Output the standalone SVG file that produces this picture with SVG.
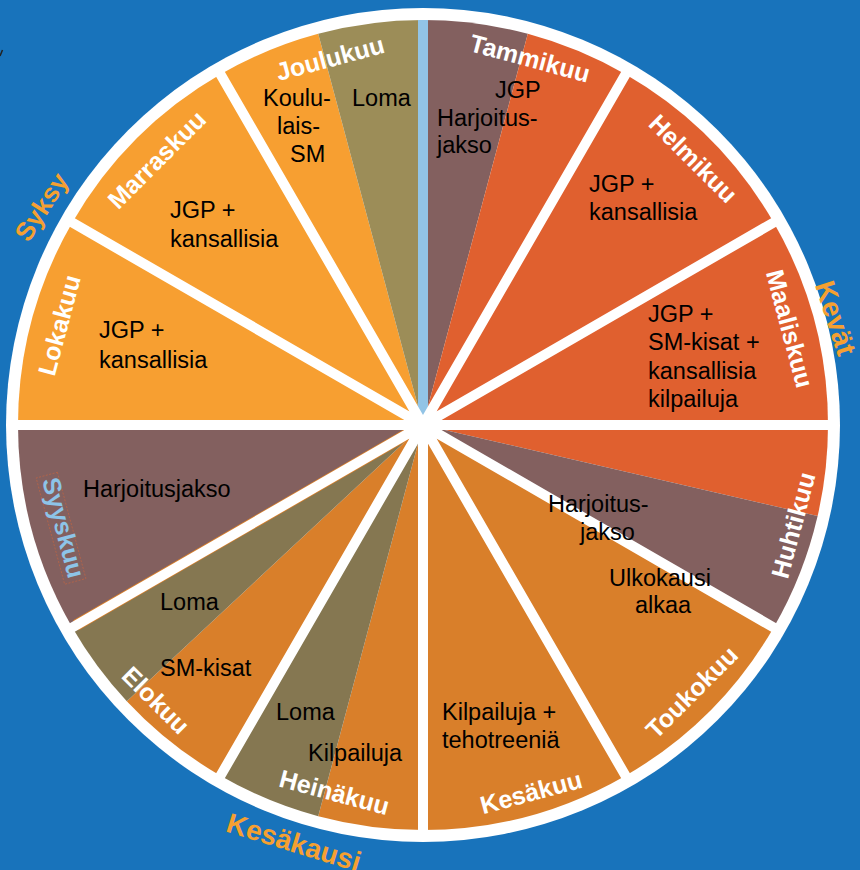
<svg xmlns="http://www.w3.org/2000/svg" width="860" height="870" viewBox="0 0 860 870">
<style>
.m{font-family:"Liberation Sans",Arial,sans-serif;font-weight:bold;font-size:25px;fill:#fff;text-anchor:middle}
.s{font-family:"Liberation Sans",Arial,sans-serif;font-weight:bold;fill:#F5A031;text-anchor:middle}
.t{font-family:"Liberation Sans",Arial,sans-serif;font-size:23.5px;fill:#000}
.lo{fill:#F79F31}.ol1{fill:#9C8D58}.ol2{fill:#857751}.mv{fill:#83605F}.rd{fill:#E0602F}.or{fill:#D97F2A}
.gap{stroke:#fff;stroke-width:10;fill:none}
</style>
<rect width="860" height="870" fill="#1873BB"/>
<path d="M0,56 L2.5,50" stroke="#222" stroke-width="1.5"/>
<circle cx="423" cy="425" r="417" fill="#fff"/>

<g id="joulukuu">
<path class="lo" d="M423,425 L220.5,74.3 A405,405 0 0 1 318.2,33.8 Z"/>
<path class="ol1" d="M423,425 L318.2,33.8 A405,405 0 0 1 423,20 Z"/>
</g>
<g id="tammikuu">
<path class="mv" d="M423,425 L423,20 A405,405 0 0 1 527.8,33.8 Z"/>
<path class="rd" d="M423,425 L527.8,33.8 A405,405 0 0 1 625.5,74.3 Z"/>
</g>
<g id="helmikuu"><path class="rd" d="M423,425 L625.5,74.3 A405,405 0 0 1 773.7,222.5 Z"/></g>
<g id="maaliskuu"><path class="rd" d="M423,425 L773.7,222.5 A405,405 0 0 1 828,425 Z"/></g>
<g id="huhtikuu">
<path class="rd" d="M423,425 L828,425 A405,405 0 0 1 817.6,516.1 Z"/>
<path class="mv" d="M423,425 L817.6,516.1 A405,405 0 0 1 773.7,627.5 Z"/>
</g>
<g id="toukokuu"><path class="or" d="M423,425 L773.7,627.5 A405,405 0 0 1 625.5,775.7 Z"/></g>
<g id="kesakuu"><path class="or" d="M423,425 L625.5,775.7 A405,405 0 0 1 423,830 Z"/></g>
<g id="heinakuu">
<path class="or" d="M423,425 L423,830 A405,405 0 0 1 318.2,816.2 Z"/>
<path class="ol2" d="M423,425 L318.2,816.2 A405,405 0 0 1 220.5,775.7 Z"/>
</g>
<g id="elokuu">
<path class="or" d="M423,425 L220.5,775.7 A405,405 0 0 1 126.8,701.2 Z"/>
<path class="ol2" d="M423,425 L126.8,701.2 A405,405 0 0 1 72.3,627.5 Z"/>
</g>
<g id="syyskuu"><path class="mv" d="M423,425 L72.3,627.5 A405,405 0 0 1 18,425 Z"/></g>
<g id="lokakuu"><path class="lo" d="M423,425 L18,425 A405,405 0 0 1 72.3,222.5 Z"/></g>
<g id="marraskuu"><path class="lo" d="M423,425 L72.3,222.5 A405,405 0 0 1 220.5,74.3 Z"/></g>

<g id="connectors">
<rect x="418" y="20" width="10" height="400" fill="#92C4E6"/>
<line x1="423" y1="425" x2="76" y2="625.3" stroke="#D97F2A" stroke-width="11.5"/>
<path class="gap" d="M629,68.2 L217,781.8 M779.8,219 L66.2,631 M835,425 L11,425 M779.8,631 L66.2,219 M629,781.8 L217,68.2 M423,425 L423,837"/>
</g>

<g id="month-labels">
<text class="m" transform="translate(530,58) rotate(15)" y="9">Tammikuu</text>
<text class="m" transform="translate(693.5,158.5) rotate(45)" y="9">Helmikuu</text>
<text class="m" transform="translate(790,328.5) rotate(75)" y="9">Maaliskuu</text>
<text class="m" transform="translate(793,525) rotate(-75)" y="9">Huhtikuu</text>
<text class="m" transform="translate(691.5,692) rotate(-45)" y="9">Toukokuu</text>
<text class="m" transform="translate(531,792) rotate(-15)" y="9">Kesäkuu</text>
<text class="m" transform="translate(334.5,792) rotate(15)" y="9">Heinäkuu</text>
<text class="m" transform="translate(156,700) rotate(45)" y="9">Elokuu</text>
<g transform="translate(62,528) rotate(75)">
<rect x="-55" y="-10" width="110" height="22" fill="none" stroke="#C8653F" stroke-width="0.6" stroke-dasharray="2 1.5"/>
<text class="m" y="7" style="fill:#8DC4E8">Syyskuu</text>
</g>
<text class="m" transform="translate(59,325) rotate(-75)" y="9">Lokakuu</text>
<text class="m" transform="translate(156.5,159.5) rotate(-45)" y="9">Marraskuu</text>
<text class="m" transform="translate(330,58) rotate(-15)" y="9">Joulukuu</text>
</g>

<g id="season-labels">
<text class="s" style="font-size:26px" transform="translate(43,208) rotate(-57)" y="7">Syksy</text>
<text class="s" style="font-size:28px" transform="translate(836,318) rotate(72)" y="10">Kevät</text>
<text class="s" style="font-size:28px" transform="translate(294,842) rotate(17)" y="10">Kesäkausi</text>
</g>

<g id="content">
<text class="t" x="263" y="106">Koulu-</text>
<text class="t" x="277" y="134">lais-</text>
<text class="t" x="290" y="162">SM</text>
<text class="t" x="352" y="106">Loma</text>
<text class="t" x="495" y="98">JGP</text>
<text class="t" x="437" y="126">Harjoitus-</text>
<text class="t" x="437" y="153">jakso</text>
<text class="t" x="589" y="192">JGP +</text>
<text class="t" x="589" y="220">kansallisia</text>
<text class="t" x="648" y="322">JGP +</text>
<text class="t" x="648" y="350">SM-kisat +</text>
<text class="t" x="648" y="379">kansallisia</text>
<text class="t" x="648" y="407">kilpailuja</text>
<text class="t" x="548" y="512">Harjoitus-</text>
<text class="t" x="580" y="540">jakso</text>
<text class="t" x="609" y="586">Ulkokausi</text>
<text class="t" x="635" y="613">alkaa</text>
<text class="t" x="442" y="720">Kilpailuja +</text>
<text class="t" x="442" y="748">tehotreeniä</text>
<text class="t" x="276" y="720">Loma</text>
<text class="t" x="308" y="761">Kilpailuja</text>
<text class="t" x="160" y="610">Loma</text>
<text class="t" x="160" y="676">SM-kisat</text>
<text class="t" x="83" y="497">Harjoitusjakso</text>
<text class="t" x="99" y="338">JGP +</text>
<text class="t" x="99" y="368">kansallisia</text>
<text class="t" x="170" y="218">JGP +</text>
<text class="t" x="170" y="247">kansallisia</text>
</g>
</svg>
